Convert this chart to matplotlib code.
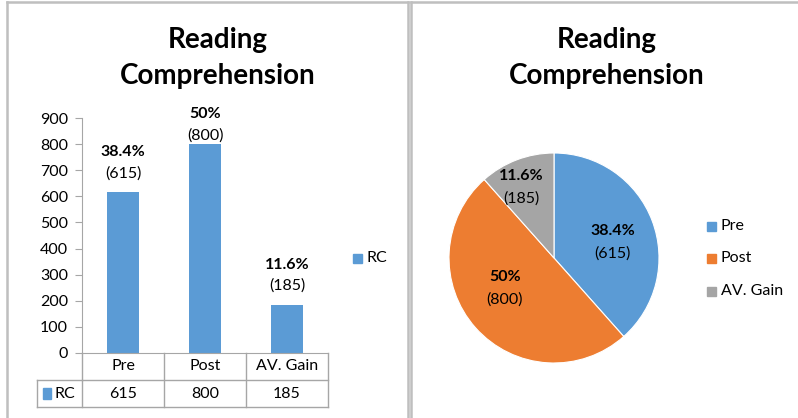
import matplotlib.pyplot as plt
from matplotlib.lines import Line2D
from matplotlib.patches import Rectangle
import numpy as np

plt.rcParams['font.family'] = ['Lato', 'DejaVu Sans']

# data
categories = ["Pre", "Post", "AV. Gain"]
values = [615, 800, 185]
pct_labels = ["38.4%", "50%", "11.6%"]
series_name = "RC"
title = "Reading\nComprehension"
colors = ["#5B9BD5", "#ED7D31", "#A5A5A5"]

W, H = 798, 418
fig = plt.figure(figsize=(W / 100, H / 100), dpi=100)

def fx(px):
    return px / W

def fy(py):
    return 1 - py / H

# panel borders
border = "#bfbfbf"
for xs, ys in [((7, 7), (2, 418)), ((7, 408), (2, 2)), ((408, 408), (2, 418)),
               ((411, 411), (2, 418)), ((411, 798), (2, 2))]:
    fig.add_artist(Line2D([fx(x) for x in xs], [fy(y) for y in ys], color=border, lw=1.8))

fs = 11.5

# ---- bar chart ----
ax = fig.add_axes([fx(82), fy(353), fx(246), 235 / H])
x = np.arange(len(categories))
ax.bar(x, values, width=0.4, color=colors[0])
ax.set_xlim(-0.5, 2.5)
ax.set_ylim(0, 900)
ax.set_yticks(range(0, 901, 100))
ax.set_xticks([])
for s in ["top", "right"]:
    ax.spines[s].set_visible(False)
ax.spines["left"].set_color("#a6a6a6")
ax.spines["bottom"].set_color("#a6a6a6")
ax.tick_params(axis="y", length=5, color="#a6a6a6", labelsize=fs, pad=5)

offsets = [(40, 19), (30, 9), (40, 19)]
for i, (v, p) in enumerate(zip(values, pct_labels)):
    o1, o2 = offsets[i]
    ax.annotate(p, (i, v), xytext=(0, o1 * 0.72), textcoords="offset points",
                ha="center", va="center", fontsize=fs, fontweight="bold")
    ax.annotate(f"({v})", (i, v), xytext=(0, o2 * 0.72), textcoords="offset points",
                ha="center", va="center", fontsize=fs)

# data table below the axis
tr = ax.get_xaxis_transform()
row_h = 27 / 235
lab_left = -0.5 - 45 / 82
tcol = "#a6a6a6"
kw = dict(transform=tr, color=tcol, lw=1, clip_on=False)
ax.plot([-0.5, 2.5], [-row_h, -row_h], **kw)
ax.plot([lab_left, 2.5], [-2 * row_h, -2 * row_h], **kw)
ax.plot([lab_left, -0.5], [-row_h, -row_h], **kw)
ax.plot([lab_left, lab_left], [-row_h, -2 * row_h], **kw)
for b in [-0.5, 0.5, 1.5, 2.5]:
    ax.plot([b, b], [0, -2 * row_h], **kw)
for i, (c, v) in enumerate(zip(categories, values)):
    ax.text(i, -row_h / 2, c, transform=tr, ha="center", va="center", fontsize=fs)
    ax.text(i, -1.5 * row_h, str(v), transform=tr, ha="center", va="center", fontsize=fs)
ax.add_patch(Rectangle((lab_left + 0.07, -1.5 * row_h - 0.022), 0.1, 0.044, transform=tr,
                       color=colors[0], clip_on=False))
ax.text(lab_left + 0.21, -1.5 * row_h, series_name, transform=tr, ha="left", va="center",
        fontsize=fs)

# legend for bar chart
fig.add_artist(Rectangle((fx(353), fy(263)), fx(9), 9 / H, color=colors[0]))
fig.text(fx(366), fy(258), series_name, ha="left", va="center", fontsize=fs)

fig.text(fx(218), fy(58), title, ha="center", va="center", fontsize=20,
         fontweight="bold", linespacing=1.45)

# ---- pie chart ----
pax = fig.add_axes([fx(554 - 105), fy(258 + 105), fx(210), 210 / H])
wedges, _ = pax.pie(values, colors=colors, startangle=90, counterclock=False,
                    wedgeprops=dict(edgecolor="white", linewidth=0.8))
pax.set_xlim(-1, 1)
pax.set_ylim(-1, 1)
pax.set_aspect("equal")

label_r = [0.58, 0.55, 0.74]
label_shift = [-6, -10, 4]
for w, r, sh, v, p in zip(wedges, label_r, label_shift, values, pct_labels):
    ang = np.deg2rad((w.theta1 + w.theta2) / 2 + sh)
    cx, cy = r * np.cos(ang), r * np.sin(ang)
    pax.text(cx, cy + 0.11, p, ha="center", va="center", fontsize=fs, fontweight="bold")
    pax.text(cx, cy - 0.11, f"({v})", ha="center", va="center", fontsize=fs)

legend_y = [226, 258, 291]
for c, name, ly in zip(colors, categories, legend_y):
    fig.add_artist(Rectangle((fx(707), fy(ly + 5)), fx(9), 9 / H, color=c))
    fig.text(fx(721), fy(ly), name, ha="left", va="center", fontsize=fs)

fig.text(fx(607), fy(58), title, ha="center", va="center", fontsize=20,
         fontweight="bold", linespacing=1.45)

fig.savefig("out.png", dpi=100)
